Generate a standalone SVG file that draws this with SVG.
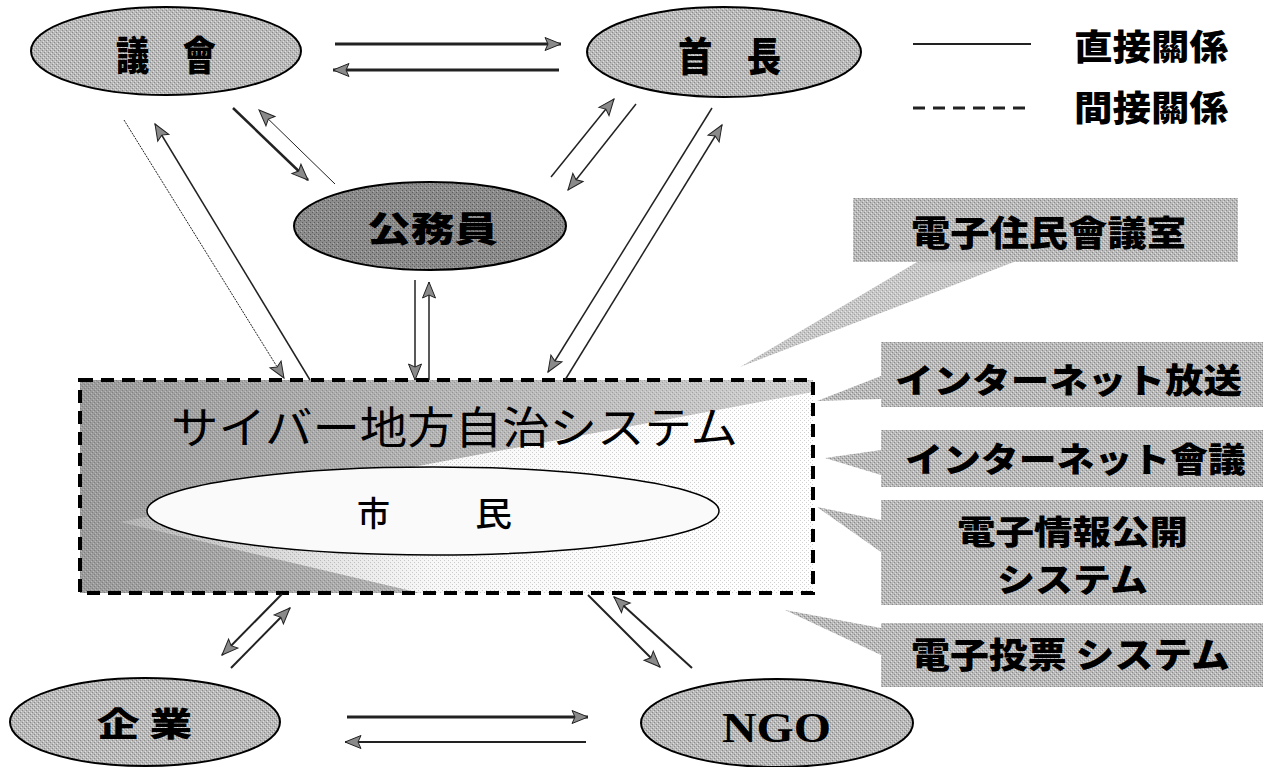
<svg xmlns="http://www.w3.org/2000/svg" width="1265" height="767" viewBox="0 0 1265 767">
<style>
.t{font-family:"Noto Sans CJK JP","Noto Sans CJK TC",sans-serif;fill:#000}
.b{font-weight:900}
.r{font-weight:400}
.m{font-weight:500}
.s{font-family:"Liberation Serif",serif;font-weight:700;fill:#000}
.el{stroke:#000;stroke-width:2}
.ln{fill:none;stroke:#222}
.call{fill:url(#ht)}
</style>
<defs>
<pattern id="ht" width="4" height="4" patternUnits="userSpaceOnUse">
<rect width="4" height="4" fill="#b9b9b9"/>
<rect x="0" y="0" width="1" height="1" fill="#8a8a8a"/>
<rect x="2" y="2" width="1" height="1" fill="#8a8a8a"/>
<rect x="1" y="3" width="1" height="1" fill="#e0e0e0"/>
<rect x="3" y="1" width="1" height="1" fill="#e0e0e0"/>
</pattern>
<pattern id="htd" width="4" height="4" patternUnits="userSpaceOnUse">
<rect width="4" height="4" fill="#8c8c8c"/>
<rect x="0" y="0" width="1" height="1" fill="#5c5c5c"/>
<rect x="2" y="2" width="1" height="1" fill="#5c5c5c"/>
<rect x="1" y="3" width="1" height="1" fill="#b0b0b0"/>
</pattern>
<pattern id="noise" width="4" height="4" patternUnits="userSpaceOnUse">
<rect x="0" y="0" width="1" height="1" fill="#000" fill-opacity="0.18"/>
<rect x="2" y="2" width="1" height="1" fill="#000" fill-opacity="0.18"/>
<rect x="1" y="3" width="1" height="1" fill="#fff" fill-opacity="0.3"/>
<rect x="3" y="1" width="1" height="1" fill="#fff" fill-opacity="0.3"/>
</pattern>
<linearGradient id="boxg" x1="0" y1="0" x2="1" y2="0">
<stop offset="0" stop-color="#9a9a9a"/>
<stop offset="0.5" stop-color="#b4b4b4"/>
<stop offset="1" stop-color="#d0d0d0"/>
</linearGradient>
<linearGradient id="fan" x1="0" y1="0" x2="1" y2="0">
<stop offset="0" stop-color="#fff" stop-opacity="0.2"/>
<stop offset="0.45" stop-color="#fff" stop-opacity="0.9"/>
<stop offset="1" stop-color="#fff" stop-opacity="1"/>
</linearGradient>
<marker id="ah" viewBox="0 0 16 13" refX="16" refY="6.5" markerWidth="16" markerHeight="13" markerUnits="userSpaceOnUse" orient="auto" overflow="visible">
<path d="M0,0 L16,6.5 L0,13 L3,6.5 Z" fill="#8a8a8a" stroke="#222" stroke-width="1"/>
</marker>
</defs>
<rect width="1265" height="767" fill="#fff"/>

<g id="cyber-system">
<rect x="80" y="380" width="733" height="213" fill="url(#boxg)"/>
<polygon points="120,522 813,392 813,593 420,593" fill="url(#fan)"/>
<rect x="80" y="380" width="733" height="213" fill="url(#noise)"/>
<rect x="80" y="380" width="733" height="213" fill="none" stroke="#000" stroke-width="4" stroke-dasharray="13 8"/>
<text class="t r" x="171" y="444" font-size="44" textLength="567" lengthAdjust="spacingAndGlyphs">サイバー地方自治システム</text>
</g>

<g id="citizen">
<ellipse cx="433" cy="511" rx="286" ry="44" fill="#fafafa" stroke="#000" stroke-width="1.5"/>
<text class="t m" x="357" y="526" font-size="34" textLength="33" lengthAdjust="spacingAndGlyphs">市</text>
<text class="t m" x="475" y="526" font-size="34" textLength="37" lengthAdjust="spacingAndGlyphs">民</text>
</g>

<g id="gikai">
<ellipse class="el" cx="166" cy="51" rx="135" ry="44" fill="url(#ht)"/>
<text class="t b" x="116" y="70" font-size="40" textLength="100" lengthAdjust="spacingAndGlyphs">議　會</text>
</g>

<g id="shucho">
<ellipse class="el" cx="724" cy="52" rx="137" ry="45" fill="url(#ht)"/>
<text class="t b" x="678" y="71" font-size="40" textLength="103" lengthAdjust="spacingAndGlyphs">首　長</text>
</g>

<g id="komuin">
<ellipse class="el" cx="430" cy="226" rx="136" ry="44" fill="url(#htd)"/>
<text class="t b" x="367" y="242" font-size="35" textLength="131" lengthAdjust="spacingAndGlyphs">公務員</text>
</g>

<g id="kigyo">
<ellipse class="el" cx="145" cy="722" rx="135" ry="44" fill="url(#ht)"/>
<text class="t b" x="97" y="736" font-size="33" textLength="95" lengthAdjust="spacingAndGlyphs">企 業</text>
</g>

<g id="ngo">
<ellipse class="el" cx="777" cy="723" rx="136" ry="44" fill="url(#ht)"/>
<text class="s" x="722" y="742" font-size="42" textLength="109" lengthAdjust="spacingAndGlyphs">NGO</text>
</g>

<g id="legend">
<line x1="913" y1="44" x2="1031" y2="44" stroke="#222" stroke-width="2"/>
<text class="t b" x="1074" y="60" font-size="35" textLength="154" lengthAdjust="spacingAndGlyphs">直接關係</text>
<line x1="913" y1="108" x2="1031" y2="108" stroke="#222" stroke-width="3" stroke-dasharray="12 8"/>
<text class="t b" x="1074" y="121" font-size="35" textLength="154" lengthAdjust="spacingAndGlyphs">間接關係</text>
</g>

<g id="callouts">
<polygon class="call" points="917,262 1014,262 740,367" fill-opacity="0.8"/>
<polygon class="call" points="817,401 881,376 881,399"/>
<polygon class="call" points="825,458 881,450 881,475"/>
<polygon class="call" points="817,507 881,520 881,552"/>
<polygon class="call" points="785,610 881,628 881,655"/>
</g>

<g id="box-denshi-jumin">
<rect x="853" y="198" width="385" height="64" fill="url(#ht)"/>
<text class="t b" x="911" y="246" font-size="35" textLength="275" lengthAdjust="spacingAndGlyphs">電子住民會議室</text>
</g>
<g id="box-housou">
<rect x="881" y="342" width="382" height="65" fill="url(#ht)"/>
<text class="t b" x="895" y="393" font-size="34" textLength="347" lengthAdjust="spacingAndGlyphs">インターネット放送</text>
</g>
<g id="box-kaigi">
<rect x="881" y="430" width="382" height="57" fill="url(#ht)"/>
<text class="t b" x="905" y="472" font-size="34" textLength="341" lengthAdjust="spacingAndGlyphs">インターネット會議</text>
</g>
<g id="box-joho">
<rect x="881" y="500" width="382" height="105" fill="url(#ht)"/>
<text class="t b" x="957" y="544" font-size="33" textLength="231" lengthAdjust="spacingAndGlyphs">電子情報公開</text>
<text class="t b" x="997" y="592" font-size="33" textLength="151" lengthAdjust="spacingAndGlyphs">システム</text>
</g>
<g id="box-touhyo">
<rect x="881" y="623" width="382" height="64" fill="url(#ht)"/>
<text class="t b" x="911" y="668" font-size="35" textLength="319" lengthAdjust="spacingAndGlyphs">電子投票 システム</text>
</g>

<g id="connectors" marker-end="url(#ah)">
<line class="ln" x1="335" y1="44" x2="561" y2="44" stroke-width="3"/>
<line class="ln" x1="559" y1="70" x2="333" y2="70" stroke-width="3"/>
<line class="ln" x1="233" y1="108" x2="308" y2="180" stroke-width="2.5"/>
<line class="ln" x1="335" y1="184" x2="259" y2="110" stroke-width="1"/>
<line class="ln" x1="124" y1="120" x2="284" y2="378" stroke-width="1" stroke-dasharray="2 1"/>
<line class="ln" x1="310" y1="380" x2="155" y2="124" stroke-width="1.5"/>
<line class="ln" x1="551" y1="177" x2="614" y2="99" stroke-width="1.5"/>
<line class="ln" x1="636" y1="104" x2="568" y2="190" stroke-width="1.5"/>
<line class="ln" x1="712" y1="108" x2="548" y2="372" stroke-width="1.5"/>
<line class="ln" x1="565" y1="380" x2="722" y2="125" stroke-width="1.5"/>
<line class="ln" x1="415" y1="280" x2="415" y2="380" stroke-width="1.5"/>
<line class="ln" x1="429" y1="380" x2="429" y2="282" stroke-width="1.5"/>
<line class="ln" x1="282" y1="594" x2="222" y2="655" stroke-width="2"/>
<line class="ln" x1="231" y1="668" x2="290" y2="608" stroke-width="2"/>
<line class="ln" x1="588" y1="595" x2="660" y2="667" stroke-width="2"/>
<line class="ln" x1="692" y1="668" x2="614" y2="597" stroke-width="2"/>
<line class="ln" x1="347" y1="717" x2="588" y2="717" stroke-width="3"/>
<line class="ln" x1="586" y1="742" x2="345" y2="742" stroke-width="2"/>
</g>
</svg>
